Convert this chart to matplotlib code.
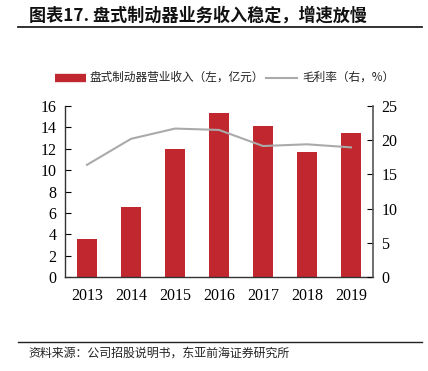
import matplotlib
matplotlib.use("Agg")
import matplotlib.pyplot as plt
from matplotlib.lines import Line2D
import numpy as np

years = ["2013", "2014", "2015", "2016", "2017", "2018", "2019"]
revenue = [3.53, 6.58, 11.94, 15.3, 14.1, 11.72, 13.5]
margin = [16.4, 20.2, 21.7, 21.5, 19.15, 19.4, 18.95]
left_ticks = [0, 2, 4, 6, 8, 10, 12, 14, 16]
right_ticks = [0, 5, 10, 15, 20, 25]

title = "图表17. 盘式制动器业务收入稳定，增速放慢"
bar_label = "盘式制动器营业收入（左，亿元）"
line_label = "毛利率（右，%）"
source = "资料来源：公司招股说明书，东亚前海证券研究所"

CJK = ["Noto Sans CJK SC", "DejaVu Sans"]
SERIF = "Liberation Serif"
W, H = 428, 371
fig = plt.figure(figsize=(W / 100, H / 100), dpi=100)

ax = fig.add_axes([65 / W, 1 - 277 / H, (373 - 65) / W, (277 - 106) / H])
x = np.arange(len(years))
ax.bar(x, revenue, width=0.45, color="#C0272F", zorder=2)
ax.set_xlim(-0.5, len(years) - 0.5)
ax.set_ylim(0, 16)
ax.set_yticks(left_ticks)
ax.set_xticks(x)
ax.set_xticklabels(years)
ax.tick_params(axis="x", length=0, pad=8)
ax.tick_params(axis="y", direction="in", length=4, pad=6)
for lab in ax.get_xticklabels() + ax.get_yticklabels():
    lab.set_fontfamily(SERIF)
    lab.set_fontsize(11.5)
ax.spines["top"].set_visible(False)
ax.spines["right"].set_visible(False)
for s in ["left", "bottom"]:
    ax.spines[s].set_color("#333333")
    ax.spines[s].set_linewidth(1.0)

ax2 = ax.twinx()
ax2.plot(x, margin, color="#AAAAAA", linewidth=1.5, zorder=3)
ax2.set_ylim(0, 25)
ax2.set_yticks(right_ticks)
ax2.tick_params(axis="y", direction="in", length=4, pad=6)
for lab in ax2.get_yticklabels():
    lab.set_fontfamily(SERIF)
    lab.set_fontsize(11.5)
ax2.spines["top"].set_visible(False)
ax2.spines["left"].set_visible(False)
ax2.spines["bottom"].set_visible(False)
ax2.spines["right"].set_color("#555555")
ax2.spines["right"].set_linewidth(1.2)

# title and rules
fig.text(29 / W, 1 - 16 / H, title, fontsize=12.3, fontweight="bold",
         family=CJK, va="center", ha="left", color="#111111")
fig.add_artist(Line2D([18 / W, 422 / W], [1 - 26.5 / H] * 2, color="#222222", lw=1.3))
fig.add_artist(Line2D([18 / W, 422 / W], [1 - 342 / H] * 2, color="#222222", lw=1.0))
fig.text(28 / W, 1 - 353 / H, source, fontsize=8.6, family=CJK,
         va="center", ha="left", color="#222222")

# legend
ly = 1 - 77.5 / H
fig.add_artist(Line2D([55 / W, 86 / W], [ly, ly], color="#C0272F", lw=6, solid_capstyle="butt"))
fig.text(89 / W, ly, bar_label, fontsize=8.4, family=CJK, va="center", ha="left", color="#222222")
fig.add_artist(Line2D([266 / W, 297 / W], [ly, ly], color="#AAAAAA", lw=1.5))
fig.text(302 / W, ly, line_label, fontsize=8.4, family=CJK, va="center", ha="left", color="#222222")

fig.savefig("out.png", dpi=100)
